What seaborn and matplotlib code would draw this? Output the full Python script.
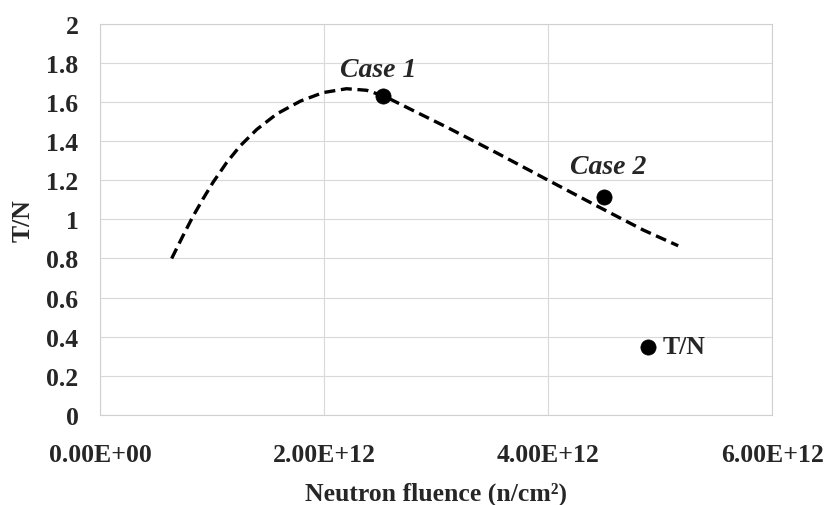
import matplotlib
matplotlib.use("Agg")
import matplotlib.pyplot as plt
import seaborn as sns
from pandas import DataFrame

# trend curve
fit_x = [0.64e12, 0.74e12, 0.83e12, 0.92e12, 1.01e12, 1.13e12, 1.25e12, 1.40e12,
         1.58e12, 1.79e12, 1.99e12, 2.20e12, 2.38e12, 2.51e12, 2.59e12, 2.80e12,
         3.10e12, 3.54e12, 4.00e12, 4.43e12, 4.85e12, 5.16e12]
fit_y = [0.80, 0.915, 1.015, 1.105, 1.19, 1.29, 1.375, 1.46,
         1.54, 1.605, 1.648, 1.668, 1.66, 1.635, 1.615, 1.555,
         1.47, 1.34, 1.20, 1.07, 0.945, 0.865]

# measured cases
case_x = [2.53e12, 4.50e12]
case_y = [1.63, 1.113]
case_labels = ["Case 1", "Case 2"]
label_offsets = [(-3.5, 10.5), (3, 13)]  # points

x_ticks = [0, 2e12, 4e12, 6e12]
x_tick_labels = ["0.00E+00", "2.00E+12", "4.00E+12", "6.00E+12"]
y_ticks = [0, 0.2, 0.4, 0.6, 0.8, 1, 1.2, 1.4, 1.6, 1.8, 2]
y_tick_labels = ["0", "0.2", "0.4", "0.6", "0.8", "1", "1.2", "1.4", "1.6", "1.8", "2"]

sns.set_style("whitegrid", {"grid.color": "#d9d9d9", "axes.edgecolor": "#d0d0d0"})
plt.rcParams['font.family'] = ['Liberation Serif', 'DejaVu Serif']
plt.rcParams['font.weight'] = 'bold'
plt.rcParams['font.size'] = 18.5

fig, ax = plt.subplots(figsize=(8.26, 5.06), dpi=100)
fig.subplots_adjust(left=0.121, right=0.935, bottom=0.178, top=0.951)

fit_df = DataFrame({"x": fit_x, "y": fit_y})
case_df = DataFrame({"x": case_x, "y": case_y})

sns.lineplot(data=fit_df, x="x", y="y", ax=ax, color="black", linewidth=2.4,
             legend=False)
ax.lines[0].set_dashes((3.3, 1.7))
sns.scatterplot(data=case_df, x="x", y="y", ax=ax, color="black", s=120,
                edgecolor="black", linewidth=0.5, label="T/N", zorder=3)

for cx, cy, lab, off in zip(case_x, case_y, case_labels, label_offsets):
    ax.annotate(lab, (cx, cy), xytext=off, textcoords="offset points",
                ha="center", va="bottom", fontstyle="italic", fontweight="bold",
                fontsize=20)

ax.set_xlim(0, 6e12)
ax.set_ylim(0, 2)
ax.set_xticks(x_ticks)
ax.set_xticklabels(x_tick_labels)
ax.set_yticks(y_ticks)
ax.set_yticklabels(y_tick_labels)
ax.tick_params(axis="x", pad=17, labelsize=18.5)
ax.tick_params(axis="y", pad=12, labelsize=18.5)
ax.set_xlabel("Neutron fluence (n/cm²)", fontweight="bold", fontsize=18.5, labelpad=11)
ax.set_ylabel("T/N", fontweight="bold", fontsize=18.5, labelpad=8)

ax.legend(loc="center left", bbox_to_anchor=(0.796, 0.174), frameon=False,
          handlelength=1.0, borderpad=0, borderaxespad=0,
          handletextpad=0.05, markerscale=1.0, fontsize=18.5)

fig.savefig("out.png", dpi=100)
